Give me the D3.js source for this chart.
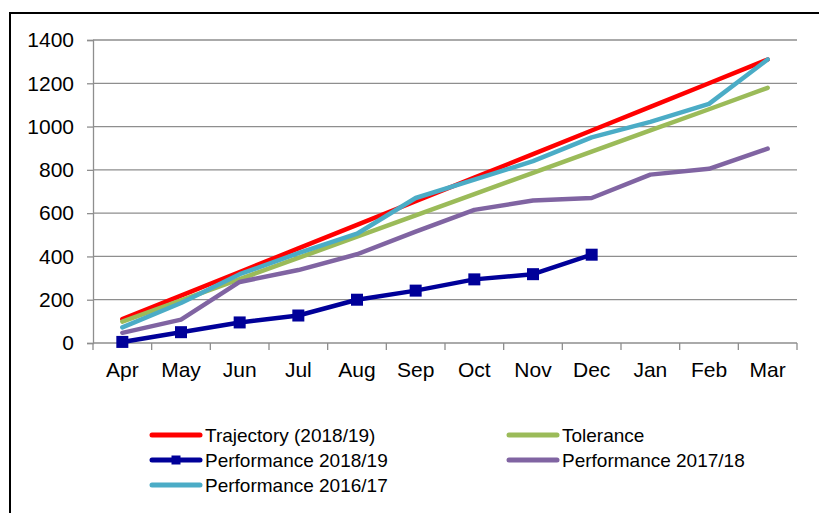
<!DOCTYPE html>
<html>
<head>
<meta charset="utf-8">
<script src="https://cdn.jsdelivr.net/npm/d3@7/dist/d3.min.js"></script>
<style>
  html, body { margin: 0; padding: 0; background: #fff; }
  svg { display: block; font-family: "Liberation Sans", Arial, sans-serif; }
</style>
</head>
<body>
<svg id="chart" width="819" height="513"></svg>
<script>
// Financial-year months
const months = ["Apr", "May", "Jun", "Jul", "Aug", "Sep", "Oct", "Nov", "Dec", "Jan", "Feb", "Mar"];
const yTicks = [0, 200, 400, 600, 800, 1000, 1200, 1400];

// Cumulative series values by month
const trajectory = [110, 219, 328, 437, 546, 655, 764, 873, 982, 1091, 1200, 1310];
const tolerance = [99, 197, 295, 393, 491, 590, 688, 786, 884, 982, 1080, 1179];
const perf1819 = [5, 50, 95, 127, 200, 242, 294, 318, 408];
const perf1718 = [47, 108, 282, 337, 410, 515, 615, 658, 670, 778, 805, 898];
const perf1617 = [72, 185, 318, 415, 505, 670, 755, 840, 950, 1022, 1105, 1310];

const series = [
  { name: "Trajectory (2018/19)", values: trajectory, color: "#ff0000", marker: false },
  { name: "Tolerance", values: tolerance, color: "#9bbb59", marker: false },
  { name: "Performance 2017/18", values: perf1718, color: "#8064a2", marker: false },
  { name: "Performance 2016/17", values: perf1617, color: "#4bacc6", marker: false },
  { name: "Performance 2018/19", values: perf1819, color: "#000099", marker: true }
];

const legendOrder = [
  "Trajectory (2018/19)", "Tolerance",
  "Performance 2018/19", "Performance 2017/18",
  "Performance 2016/17"
];

const svg = d3.select("#chart");

// Outer chart frame
svg.append("rect")
  .attr("x", 10).attr("y", 13)
  .attr("width", 830).attr("height", 520)
  .attr("fill", "none").attr("stroke", "#000").attr("stroke-width", 2);

const plot = { left: 93, right: 797, top: 40, bottom: 343 };

const x = d3.scaleBand().domain(months).range([plot.left, plot.right]).padding(0);
const y = d3.scaleLinear().domain([0, 1400]).range([plot.bottom, plot.top]);
const cx = m => x(m) + x.bandwidth() / 2;

// Horizontal gridlines
svg.append("g")
  .selectAll("line")
  .data(yTicks.filter(t => t > 0))
  .join("line")
  .attr("x1", plot.left).attr("x2", plot.right)
  .attr("y1", d => y(d)).attr("y2", d => y(d))
  .attr("stroke", "#8e8e8e").attr("stroke-width", 1.3);

// Y axis
const yAxis = svg.append("g")
  .attr("transform", `translate(${plot.left},0)`)
  .call(d3.axisLeft(y).tickValues(yTicks).tickFormat(d3.format("d")).tickSize(6).tickPadding(13));
yAxis.select(".domain").attr("stroke", "#8e8e8e").attr("stroke-width", 1.3);
yAxis.selectAll(".tick line").attr("stroke", "#8e8e8e").attr("stroke-width", 1.3);
yAxis.selectAll(".tick text")
  .attr("fill", "#000").attr("font-size", 21)
  .attr("font-family", "'Liberation Sans', Arial, sans-serif");

// X axis with tick marks at category boundaries
const xAxis = svg.append("g")
  .attr("transform", `translate(0,${plot.bottom})`);
xAxis.append("line")
  .attr("x1", plot.left).attr("x2", plot.right)
  .attr("y1", 0).attr("y2", 0)
  .attr("stroke", "#8e8e8e").attr("stroke-width", 1.3);
const boundaries = months.map(m => x(m)).concat([plot.right]);
xAxis.selectAll("line.tick")
  .data(boundaries)
  .join("line")
  .attr("class", "tick")
  .attr("x1", d => d).attr("x2", d => d)
  .attr("y1", 0).attr("y2", 7)
  .attr("stroke", "#8e8e8e").attr("stroke-width", 1.3);
xAxis.selectAll("text")
  .data(months)
  .join("text")
  .attr("x", d => cx(d))
  .attr("y", 34)
  .attr("text-anchor", "middle")
  .attr("font-size", 21)
  .attr("fill", "#000")
  .text(d => d);

// Series lines
const line = d3.line()
  .x((d, i) => cx(months[i]))
  .y(d => y(d));

series.forEach(s => {
  svg.append("path")
    .datum(s.values)
    .attr("d", line)
    .attr("fill", "none")
    .attr("stroke", s.color)
    .attr("stroke-width", 4.5)
    .attr("stroke-linejoin", "round")
    .attr("stroke-linecap", "round");
  if (s.marker) {
    const ms = 12;
    svg.append("g")
      .selectAll("rect")
      .data(s.values)
      .join("rect")
      .attr("x", (d, i) => cx(months[i]) - ms / 2)
      .attr("y", d => y(d) - ms / 2)
      .attr("width", ms).attr("height", ms)
      .attr("fill", s.color);
  }
});

// Legend, two columns
const legendCols = [150, 507];
const legendRows = [435, 460, 485];
const legend = svg.append("g");
legendOrder.forEach((name, i) => {
  const s = series.find(d => d.name === name);
  const lx = legendCols[i % 2];
  const ly = legendRows[Math.floor(i / 2)];
  const g = legend.append("g").attr("transform", `translate(${lx},${ly})`);
  g.append("line")
    .attr("x1", 2).attr("x2", 50)
    .attr("y1", 0).attr("y2", 0)
    .attr("stroke", s.color).attr("stroke-width", 5)
    .attr("stroke-linecap", "round");
  if (s.marker) {
    g.append("rect")
      .attr("x", 26 - 4.5).attr("y", -4.5)
      .attr("width", 9).attr("height", 9)
      .attr("fill", s.color);
  }
  g.append("text")
    .attr("x", 55).attr("y", 7)
    .attr("font-size", 19)
    .attr("fill", "#000")
    .text(name);
});
</script>
</body>
</html>
